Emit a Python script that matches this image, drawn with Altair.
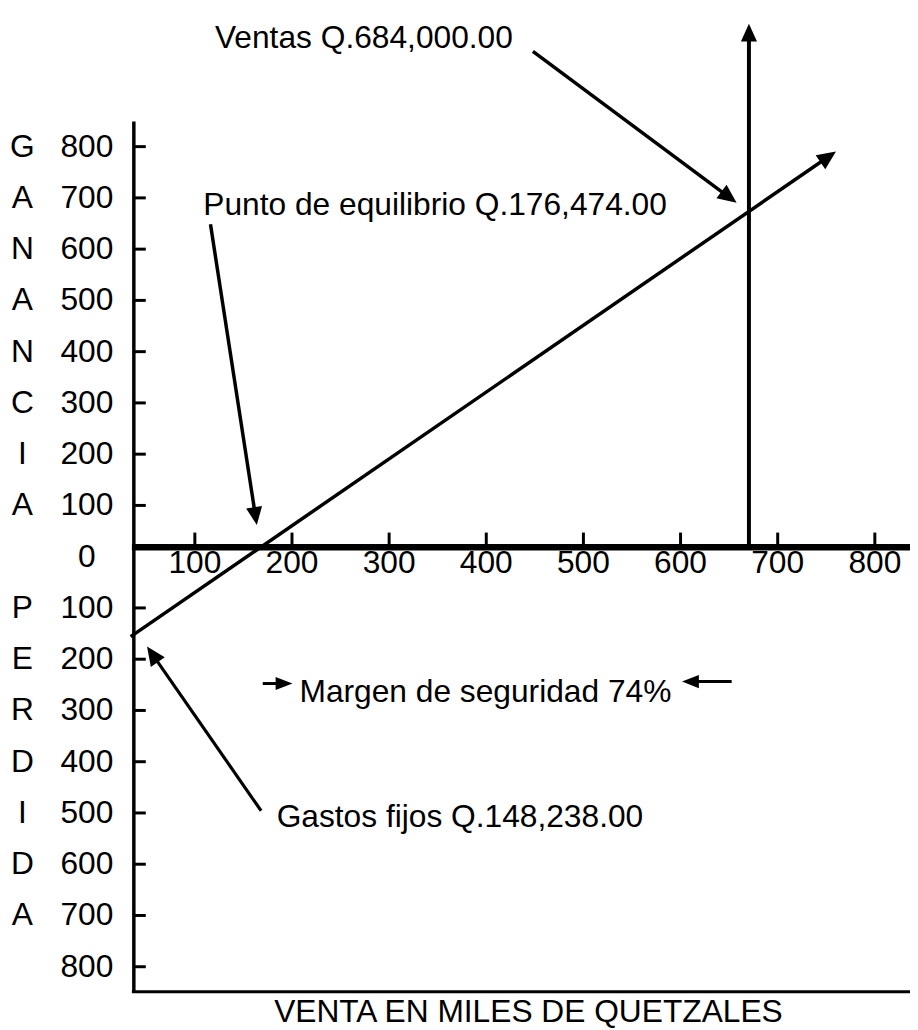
import math
import altair as alt
import pandas as pd

FONT = "Liberation Sans, Arial, Helvetica, sans-serif"
FS = 32

# ---------------- axis values (thousands of quetzales) ----------------
x_tick_values = [100, 200, 300, 400, 500, 600, 700, 800]
x_tick_labels = ["100", "200", "300", "400", "500", "600", "700", "800"]

y_label_values = [800, 700, 600, 500, 400, 300, 200, 100, 0,
                  -100, -200, -300, -400, -500, -600, -700, -800]
y_tick_labels = ["800", "700", "600", "500", "400", "300", "200", "100", "0",
                 "100", "200", "300", "400", "500", "600", "700", "800"]
y_side_letters = ["G", "A", "N", "A", "N", "C", "I", "A", "",
                  "P", "E", "R", "D", "I", "D", "A", ""]
y_tick_values = [v for v in y_label_values if v != 0]

# ---------------- frame as drawn (chart units) ----------------
axis_x = 37.2            # vertical axis position
axis_y_top, axis_y_bottom = 849.0, -849.0
zero_line_y = 18.4       # drawn horizontal axis
frame_x_left, frame_x_right = 35.2, 836.2
y_tick_end_x = 49.5
x_tick_top_y = 47.0
x_label_y = -30.9
letter_x = -77.6
number_x = -11.2

# ---------------- break-even chart lines (as drawn) ----------------
profit_line_x = [33.9, 760.0]
profit_line_y = [-156.0, 790.4]
sales_line_x = [670.4, 670.4]
sales_line_y = [18.4, 1039.9]

# ---------------- annotations ----------------
ventas_text = "Ventas Q.684,000.00"
ventas_text_pos = [120.7, 993.0]
ventas_arrow = [448.0, 986.0, 657.7, 690.4]

punto_text = "Punto de equilibrio Q.176,474.00"
punto_text_pos = [108.7, 666.0]
punto_arrow = [116.1, 648.4, 163.8, 61.9]

gastos_text = "Gastos fijos Q.148,238.00"
gastos_text_pos = [184.2, -528.0]
gastos_arrow = [168.2, -495.7, 50.8, -175.4]

margen_text = "Margen de seguridad 74%"
margen_text_pos = [207.7, -283.3]
margen_arrow_left = [169.9, -247.5, 200.5, -247.5]
margen_arrow_right = [652.6, -243.7, 601.5, -243.7]

x_title = "VENTA EN MILES DE QUETZALES"
x_title_pos = [443.4, -908.0]

# ---------------- scales ----------------
W, H = 910, 1022
X_DOMAIN = [-92.35, 836.2]
Y_TOP = 1061.7
sx = W / (X_DOMAIN[1] - X_DOMAIN[0])
sy = 1014 / (Y_TOP + 899.2)
Y_DOMAIN = [Y_TOP - H / sy, Y_TOP]
xs = alt.Scale(domain=X_DOMAIN, nice=False, zero=False)
ys = alt.Scale(domain=Y_DOMAIN, nice=False, zero=False)


def X(f="x"):
    return alt.X(f"{f}:Q", scale=xs, axis=None)


def Y(f="y"):
    return alt.Y(f"{f}:Q", scale=ys, axis=None)


def seg_layer(rows, width):
    df = pd.DataFrame(rows, columns=["x", "y", "x2", "y2"])
    return alt.Chart(df).mark_rule(color="black", strokeWidth=width).encode(
        x=X(), y=Y(), x2="x2:Q", y2="y2:Q")


def arrow_geom(x0, y0, x1, y1, back):
    dx = (x1 - x0) * sx
    dyup = (y1 - y0) * sy
    ln = math.hypot(dx, dyup)
    ang = math.degrees(math.atan2(dx, dyup)) % 360
    ex = x1 - dx / ln * back / sx
    ey = y1 - dyup / ln * back / sy
    return ang, ex, ey


HEAD_BIG = "M0,0L-0.45,1L0.45,1Z"
HEAD_SMALL = "M0,0L-0.39,1L0.39,1Z"


def arrow_layers(x0, y0, x1, y1, width, shape, size, back):
    ang, ex, ey = arrow_geom(x0, y0, x1, y1, back)
    shaft = seg_layer([[x0, y0, ex, ey]], width)
    head_df = pd.DataFrame({"x": [x1], "y": [y1], "a": [ang]})
    head = alt.Chart(head_df).mark_point(
        shape=shape, filled=True, color="black", opacity=1, size=size, strokeWidth=0
    ).encode(x=X(), y=Y(), angle=alt.Angle("a:Q", scale=None))
    return [shaft, head]


layers = []

# frame
layers.append(seg_layer([[axis_x, axis_y_top, axis_x, axis_y_bottom]], 3.5))
layers.append(seg_layer([[frame_x_left, axis_y_bottom, frame_x_right, axis_y_bottom]], 3))
layers.append(seg_layer([[axis_x, v, y_tick_end_x, v] for v in y_tick_values], 3))
layers.append(seg_layer([[v, zero_line_y, v, x_tick_top_y] for v in x_tick_values], 3))
layers.append(seg_layer([[frame_x_left, zero_line_y, frame_x_right, zero_line_y]], 6.5))

# lines
layers += arrow_layers(profit_line_x[0], profit_line_y[0], profit_line_x[1], profit_line_y[1],
                       3.5, HEAD_BIG, 1444, 8)
layers += arrow_layers(sales_line_x[0], sales_line_y[0], sales_line_x[1], sales_line_y[1],
                       4, HEAD_BIG, 1296, 8)

# annotation arrows
layers += arrow_layers(*ventas_arrow, 3.5, HEAD_BIG, 1444, 8)
layers += arrow_layers(*punto_arrow, 3.5, HEAD_BIG, 1296, 8)
layers += arrow_layers(*gastos_arrow, 3.2, HEAD_BIG, 1444, 8)
layers += arrow_layers(*margen_arrow_left, 3, HEAD_SMALL, 1156, 7)
layers += arrow_layers(*margen_arrow_right, 3, HEAD_SMALL, 1156, 7)

# tick labels
ylab = pd.DataFrame({"y": y_label_values, "t": y_tick_labels, "l": y_side_letters})
ylab["xn"] = number_x
ylab["xl"] = letter_x
layers.append(alt.Chart(ylab).mark_text(font=FONT, fontSize=FS, color="black",
                                        align="center", baseline="middle").encode(
    x=X("xn"), y=Y(), text="t:N"))
layers.append(alt.Chart(ylab).mark_text(font=FONT, fontSize=FS, color="black",
                                        align="center", baseline="middle").encode(
    x=X("xl"), y=Y(), text="l:N"))

xlab = pd.DataFrame({"x": x_tick_values, "t": x_tick_labels})
xlab["y"] = x_label_y
layers.append(alt.Chart(xlab).mark_text(font=FONT, fontSize=FS, color="black",
                                        align="center", baseline="alphabetic").encode(
    x=X(), y=Y(), text="t:N"))

# annotation texts
notes = pd.DataFrame({
    "x": [ventas_text_pos[0], punto_text_pos[0], gastos_text_pos[0], margen_text_pos[0]],
    "y": [ventas_text_pos[1], punto_text_pos[1], gastos_text_pos[1], margen_text_pos[1]],
    "t": [ventas_text, punto_text, gastos_text, margen_text],
})
layers.append(alt.Chart(notes).mark_text(font=FONT, fontSize=FS, color="black",
                                         align="left", baseline="alphabetic").encode(
    x=X(), y=Y(), text="t:N"))

title_df = pd.DataFrame({"x": [x_title_pos[0]], "y": [x_title_pos[1]], "t": [x_title]})
layers.append(alt.Chart(title_df).mark_text(font=FONT, fontSize=FS, color="black",
                                            align="center", baseline="alphabetic").encode(
    x=X(), y=Y(), text="t:N"))

chart = alt.layer(*layers).properties(
    width=W, height=H,
    autosize=alt.AutoSizeParams(type="none"),
    padding=0,
).configure_view(stroke=None)

chart.save("out.html", embed_options={"renderer": "svg", "actions": False})
